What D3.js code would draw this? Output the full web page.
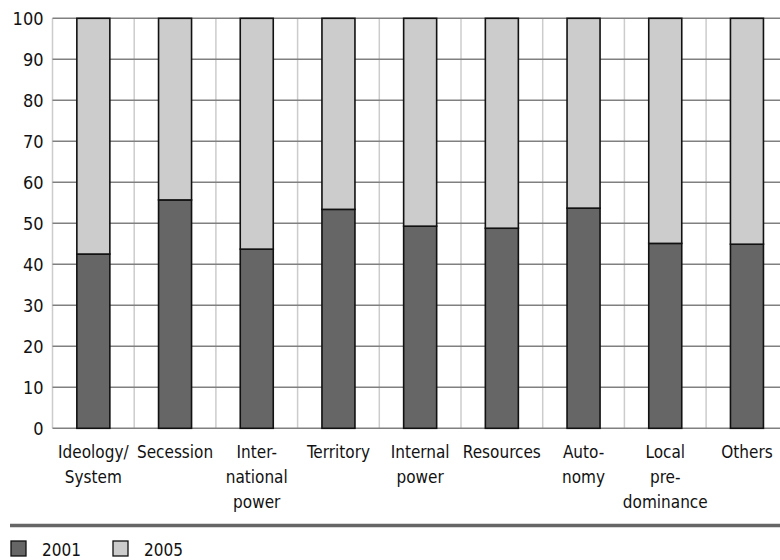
<!DOCTYPE html>
<html>
<head>
<meta charset="utf-8">
<script src="https://cdn.jsdelivr.net/npm/d3@7"></script>
<style>
html,body{margin:0;padding:0;background:#fff;overflow:hidden;}
svg{display:block;font-family:"DejaVu Sans Condensed","Open Sans",sans-serif;}
</style>
</head>
<body>
<svg id="chart" width="780" height="560"></svg>
<script>
const categories = [
  ["Ideology/","System"],
  ["Secession"],
  ["Inter-","national","power"],
  ["Territory"],
  ["Internal","power"],
  ["Resources"],
  ["Auto-","nomy"],
  ["Local","pre-","dominance"],
  ["Others"]
];
const series2001 = [42.5, 55.7, 43.7, 53.4, 49.3, 48.8, 53.7, 45.1, 44.9];
const series2005 = [57.5, 44.3, 56.3, 46.6, 50.7, 51.2, 46.3, 54.9, 55.1];
const yTicks = [0,10,20,30,40,50,60,70,80,90,100];
const legendLabels = ["2001","2005"];
const colors = ["#666666","#cccccc"];

(function(){
const svg = d3.select("#chart");
const mLeft = 52.5, mTop = 18.3, mBottom = 428.3, band = 81.7;
const x = d3.scaleBand().domain(d3.range(categories.length))
  .range([mLeft, mLeft + band*categories.length]).paddingInner(0.596).paddingOuter(0.298);
const y = d3.scaleLinear().domain([0,100]).range([mBottom, mTop]);

// vertical light gridlines at band boundaries
const bounds = d3.range(categories.length + 1).map(i => mLeft + i*band);
svg.append("g").selectAll("line").data(bounds).join("line")
  .attr("x1", d => d).attr("x2", d => d).attr("y1", mTop).attr("y2", mBottom)
  .attr("stroke", "#cccccc").attr("stroke-width", 1.5);

// horizontal gridlines
svg.append("g").selectAll("line").data(yTicks).join("line")
  .attr("x1", mLeft).attr("x2", 780).attr("y1", d => y(d)).attr("y2", d => y(d))
  .attr("stroke", "#808080").attr("stroke-width", 1.5);

// y tick labels
const yAxis = d3.axisLeft(y).tickValues(yTicks).tickSize(0).tickPadding(9);
const ya = svg.append("g").attr("transform", `translate(${mLeft},0)`).call(yAxis);
ya.select(".domain").remove();
ya.attr("font-family", null).attr("font-size", null);
ya.selectAll("text").attr("font-size", 18).attr("fill", "#111");

// stacked bars
const rows = series2001.map((v,i) => ({a: v, b: series2005[i]}));
const stack = d3.stack().keys(["a","b"])(rows);
stack.forEach((layer, k) => {
  svg.append("g").selectAll("rect").data(layer).join("rect")
    .attr("x", (d,i) => x(i)).attr("width", x.bandwidth())
    .attr("y", d => y(d[1])).attr("height", d => y(d[0]) - y(d[1]))
    .attr("fill", colors[k]).attr("stroke", "#111").attr("stroke-width", 1.6);
});

// x labels
const xl = svg.append("g");
categories.forEach((lines, i) => {
  const t = xl.append("text").attr("text-anchor", "middle").attr("font-size", 17).attr("fill", "#111");
  lines.forEach((s, j) => {
    t.append("tspan").attr("x", x(i) + x.bandwidth()/2).attr("y", 458 + j*25).text(s);
  });
});

// separator
svg.append("line").attr("x1", 10).attr("x2", 780).attr("y1", 525.5).attr("y2", 525.5)
  .attr("stroke", "#666").attr("stroke-width", 3.5);

// legend
const lg = svg.append("g");
legendLabels.forEach((lab, i) => {
  const g = lg.append("g").attr("transform", `translate(${11 + i*102},541)`);
  g.append("rect").attr("width", 15).attr("height", 15).attr("fill", colors[i]).attr("stroke", "#111").attr("stroke-width", 1.3);
  g.append("text").attr("x", 31).attr("y", 14.5).attr("font-size", 17).attr("fill", "#111").text(lab);
});
})();
</script>
</body>
</html>
